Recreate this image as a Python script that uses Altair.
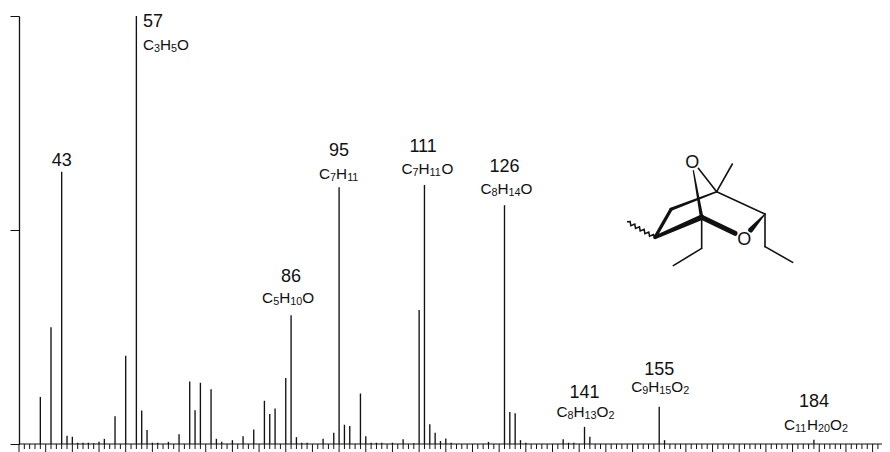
import altair as alt
import pandas as pd

# ---- spectrum values (m/z, relative intensity %) ----
MZ = [39,41,43,44,45,46,47,48,49,50,51,53,55,57,58,59,60,61,63,65,67,68,69,71,72,73,75,77,79,
      81,82,83,85,86,87,88,89,92,94,95,96,97,99,100,101,102,103,105,107,109,110,111,112,113,
      114,115,116,123,126,127,128,129,130,137,138,139,141,142,155,156,184]
INTENSITY = [11.0,27.3,63.6,1.9,1.7,0.3,0.3,0.3,0.2,0.5,1.2,6.5,20.6,100,7.8,3.3,0.3,0.3,0.5,2.3,
             14.6,7.9,14.3,12.8,1.2,0.5,0.9,1.8,3.4,10.1,7.0,8.3,15.4,30.1,1.6,0.3,0.3,1.2,2.6,
             60.0,4.5,4.2,11.8,1.8,0.3,0.3,0.3,0.3,1.1,0.2,31.3,60.5,4.6,2.6,0.7,1.3,0.3,0.5,
             55.8,7.5,7.2,0.9,0.3,1.1,0.3,0.3,4.0,1.7,8.7,0.9,1.0]
LABEL_MZ = [43, 57, 86, 95, 111, 126, 141, 155, 184]
LABEL_TEXT = ["43", "57", "86", "95", "111", "126", "141", "155", "184"]
FORMULAS = [None,
            [("C",0),("3",1),("H",0),("5",1),("O",0)],
            [("C",0),("5",1),("H",0),("10",1),("O",0)],
            [("C",0),("7",1),("H",0),("11",1)],
            [("C",0),("7",1),("H",0),("11",1),("O",0)],
            [("C",0),("8",1),("H",0),("14",1),("O",0)],
            [("C",0),("8",1),("H",0),("13",1),("O",0),("2",1)],
            [("C",0),("9",1),("H",0),("15",1),("O",0),("2",1)],
            [("C",0),("11",1),("H",0),("20",1),("O",0),("2",1)]]
TICK_MZ = list(range(35, 197))

# ---- layout ----
W, H = 863, 428
PX_PER_DA = 5.335
PX_PER_PCT = H / 100
NUM_SIZE, FORM_SIZE, SUB_SIZE = 18, 15.3, 10.8
FONT = "Liberation Sans"
NUM_ROW = [161, 22, 277, 151, 147, 167, 393, 370, 402]
FORM_ROW = [None, 45, 298, 174, 169, 189, 412, 387, 425]
FORM_SHIFT = {86: -3, 111: 3, 184: 2, 126: 2, 141: 1, 155: 1}
LEFT_ALIGN = {57: 143}
BASE_ROW = 444
GLYPH = {"C": .722, "H": .722, "O": .778}
MAJOR_LEN, MINOR_LEN = 8, 5


def row_to_pct(r):
    return (BASE_ROW - r) / PX_PER_PCT


def px_to_mz(px):
    return 35 + (px - 19) / PX_PER_DA


rows = []
for mz, txt, nr, fr, f in zip(LABEL_MZ, LABEL_TEXT, NUM_ROW, FORM_ROW, FORMULAS):
    w = len(txt) * .556 * NUM_SIZE
    left = px_to_mz(LEFT_ALIGN[mz]) if mz in LEFT_ALIGN else mz - (w / 2) / PX_PER_DA
    rows.append(dict(x=left, y=row_to_pct(nr), t=txt, s=NUM_SIZE))
    if f is None:
        continue
    widths = [(GLYPH[a] * FORM_SIZE if not sub else .556 * SUB_SIZE * len(a)) for a, sub in f]
    total = sum(widths)
    cur = (px_to_mz(LEFT_ALIGN[mz]) if mz in LEFT_ALIGN
           else mz + (FORM_SHIFT.get(mz, 0) - total / 2) / PX_PER_DA)
    for (a, sub), wd in zip(f, widths):
        rows.append(dict(x=cur, y=row_to_pct(fr + (4 if sub else 0)), t=a, s=SUB_SIZE if sub else FORM_SIZE))
        cur += wd / PX_PER_DA
labels = pd.DataFrame(rows)

x_scale = alt.Scale(domain=[35, 35 + W / PX_PER_DA], nice=False, zero=False)
y_scale = alt.Scale(domain=[0, 100], nice=False, zero=True)

stems = alt.Chart(pd.DataFrame({"mz": MZ, "i": INTENSITY})).mark_rule(
    color="#111111", strokeWidth=1.35
).encode(
    x=alt.X("mz:Q", scale=x_scale, title=None, axis=None),
    y=alt.Y("i:Q", scale=y_scale, title=None, axis=alt.Axis(
        values=[0, 50, 100], labels=False, grid=False, domainColor="#111111",
        domainWidth=1.3, tickColor="#111111", tickWidth=1, tickSize=9)),
    y2=alt.datum(0),
)

tick_df = pd.DataFrame({"mz": TICK_MZ})
tick_df["low"] = [-(MAJOR_LEN if m % 5 == 0 else MINOR_LEN) / PX_PER_PCT for m in TICK_MZ]
tick_df["zero"] = 0
ticks = alt.Chart(tick_df).mark_rule(color="#111111", strokeWidth=1).encode(
    x=alt.X("mz:Q", scale=x_scale, axis=None),
    y=alt.Y("zero:Q", scale=y_scale),
    y2="low:Q",
)
baseline = alt.Chart(pd.DataFrame({"a": [35], "b": [35 + W / PX_PER_DA], "z": [0]})).mark_rule(
    color="#111111", strokeWidth=1.2
).encode(
    x=alt.X("a:Q", scale=x_scale, axis=None), x2="b:Q", y=alt.Y("z:Q", scale=y_scale),
)

label_layer = alt.Chart(labels).mark_text(
    align="left", baseline="middle", font=FONT, color="#111111"
).encode(
    x=alt.X("x:Q", scale=x_scale), y=alt.Y("y:Q", scale=y_scale),
    text="t:N", size=alt.Size("s:Q", scale=None),
)
spectrum = alt.layer(stems, ticks, baseline, label_layer)

# ---- structure drawing (own coordinates, 3 units per px) ----
BONDS = [
    (250,92,1.2, 275,232,3.5), (265,85,1.6, 320,155,1.6), (320,155,1.6, 367,72,1.6),
    (320,155,1.6, 465,222,1.6), (320,155,1.6, 183,208,3.2), (183,208,3.2, 135,292,3.2),
    (135,292,3.5, 275,232,5.5), (275,232,5, 375,280,5), (275,232,1.6, 275,325,1.6),
    (275,325,1.6, 190,377,1.6), (465,222,1, 422,270,5), (465,222,1.6, 465,320,1.6),
    (465,320,1.6, 548,367,1.6),
]
WAVY = [(135,292),(130.4,283.7),(118.6,288.6),(116.4,275.9),(104.6,280.8),(102.4,268.1),(90.6,273),
        (88.4,260.3),(76.6,265.2),(74.4,252.5),(62.6,257.4),(60.4,244.7),(51,245.2)]
ATOMS = [(247,68,"O"), (403,300,"O")]

sx = alt.Scale(domain=[-1773, 816], nice=False, zero=False)
sy = alt.Scale(domain=[912, -372], nice=False, zero=False)

bond_rows = []
for n, (x1, y1, w1, x2, y2, w2) in enumerate(BONDS):
    bond_rows.append(dict(b=n, o=0, x=x1, y=y1, w=w1))
    bond_rows.append(dict(b=n, o=1, x=x2, y=y2, w=w2))
bonds = alt.Chart(pd.DataFrame(bond_rows)).mark_trail(color="#111111").encode(
    x=alt.X("x:Q", scale=sx, axis=None), y=alt.Y("y:Q", scale=sy, axis=None),
    size=alt.Size("w:Q", scale=None), detail="b:N", order="o:Q",
)
wavy = alt.Chart(pd.DataFrame(WAVY, columns=["x", "y"]).reset_index()).mark_line(
    color="#111111", strokeWidth=1.5
).encode(
    x=alt.X("x:Q", scale=sx, axis=None), y=alt.Y("y:Q", scale=sy, axis=None), order="index:Q",
)
atoms = alt.Chart(pd.DataFrame(ATOMS, columns=["x", "y", "t"])).mark_text(
    font=FONT, fontSize=18, color="#111111", baseline="middle", align="center"
).encode(
    x=alt.X("x:Q", scale=sx, axis=None), y=alt.Y("y:Q", scale=sy, axis=None), text="t:N",
)
structure = alt.layer(bonds, wavy, atoms)

chart = alt.layer(spectrum, structure).resolve_scale(
    x="independent", y="independent"
).properties(
    width=W, height=H,
    autosize=alt.AutoSizeParams(type="none"),
    padding={"left": 11, "top": 8, "right": 0, "bottom": 8},
).configure_view(stroke=None)

chart.save("out.html", embed_options={"renderer": "svg", "actions": False})
